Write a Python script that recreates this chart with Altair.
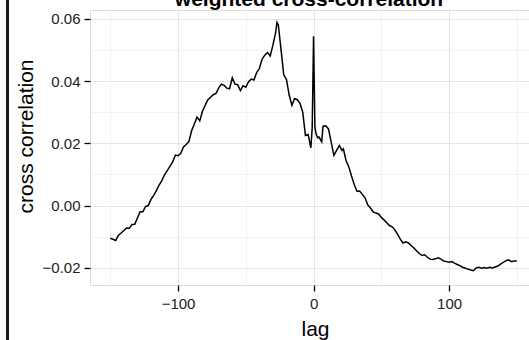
import altair as alt
import pandas as pd

# lag (x) and weighted cross-correlation (y)
lags = [-150, -148, -146, -144, -142, -140, -138, -136, -134, -132, -130, -128, -126, -124, -122,
        -120, -118, -116, -114, -112, -110, -108, -106, -104, -102, -100, -98, -96, -94, -92,
        -90, -88, -86, -84, -82, -80, -78, -76, -74, -72, -70, -68, -66, -64, -62,
        -60, -58, -56, -54, -52, -50, -48, -46, -44, -42, -40, -38, -36, -34, -32,
        -30, -28, -27, -26, -24, -22, -20, -18, -16, -14, -12, -10, -8, -6, -4,
        -2, -1, 0, 1, 2, 3, 4, 6, 7, 9, 11, 13, 15, 17, 19,
        21, 22, 24, 26, 28, 30, 32, 34, 36, 38, 40, 42, 44, 46, 48,
        50, 52, 54, 56, 58, 60, 62, 64, 66, 68, 70, 72, 74, 76, 78,
        80, 82, 84, 86, 88, 90, 92, 94, 96, 98, 100, 102, 104, 106, 108,
        110, 112, 114, 116, 118, 120, 122, 124, 126, 128, 130, 132, 134, 136, 138,
        140, 142, 144, 146, 148, 150]

cross_corr = [-0.0105, -0.0108, -0.0112, -0.0095, -0.0088, -0.0080, -0.0072, -0.0073, -0.0061, -0.0060,
              -0.0040, -0.0020, -0.0020, -0.0003, 0.0000,
              0.0020, 0.0033, 0.0048, 0.0066, 0.0080, 0.0099, 0.0112, 0.0126, 0.0140, 0.0162,
              0.0160, 0.0168, 0.0188, 0.0196, 0.0205,
              0.0240, 0.0262, 0.0284, 0.0272, 0.0303, 0.0322, 0.0340, 0.0348, 0.0356, 0.0360,
              0.0378, 0.0390, 0.0386, 0.0377, 0.0375,
              0.0410, 0.0390, 0.0388, 0.0369, 0.0385, 0.0380, 0.0398, 0.0406, 0.0403, 0.0427,
              0.0440, 0.0470, 0.0483, 0.0492, 0.0480,
              0.0515, 0.0555, 0.0588, 0.0580, 0.0500, 0.0420, 0.0405, 0.0355, 0.0322, 0.0344,
              0.0340, 0.0328, 0.0300, 0.0225, 0.0228,
              0.0185, 0.0250, 0.0544, 0.0250, 0.0228, 0.0218, 0.0220, 0.0205, 0.0255, 0.0256,
              0.0246, 0.0204, 0.0161, 0.0177, 0.0193,
              0.0177, 0.0182, 0.0144, 0.0125, 0.0095, 0.0068, 0.0046, 0.0047, 0.0036, 0.0025,
              0.0002, -0.0008, -0.0020, -0.0024, -0.0027,
              -0.0038, -0.0046, -0.0055, -0.0064, -0.0068, -0.0078, -0.0092, -0.0108, -0.0120, -0.0116,
              -0.0120, -0.0128, -0.0136, -0.0145, -0.0154,
              -0.0160, -0.0158, -0.0166, -0.0172, -0.0173, -0.0171, -0.0168, -0.0172, -0.0178, -0.0180,
              -0.0182, -0.0180, -0.0185, -0.0189, -0.0193,
              -0.0198, -0.0201, -0.0204, -0.0207, -0.0209, -0.0200, -0.0198, -0.0201, -0.0199, -0.0201,
              -0.0198, -0.0200, -0.0197, -0.0194, -0.0188,
              -0.0182, -0.0177, -0.0174, -0.0180, -0.0178, -0.0178]

x_major = [-100, 0, 100]
x_minor = [-150, -50, 50, 150]
y_major = [-0.02, 0.0, 0.02, 0.04, 0.06]
y_minor = [-0.01, 0.01, 0.03, 0.05]
title_text = "weighted cross-correlation"

df = pd.DataFrame({"lag": lags, "cc": cross_corr})

FONT = "Liberation Sans"
x_scale = alt.Scale(domain=[-165, 159], nice=False, zero=False)
y_scale = alt.Scale(domain=[-0.0255, 0.0628], nice=False, zero=False)

line = alt.Chart(df).mark_line(color="black", strokeWidth=1.5).encode(
    x=alt.X("lag:Q", scale=x_scale,
            axis=alt.Axis(orient="bottom", values=x_major, format="d", domain=False, grid=True,
                          gridColor="#e4e4e4", gridWidth=1.2,
                          ticks=True, tickColor="black", tickSize=6, tickWidth=1.3,
                          labelFont=FONT, labelFontSize=15, labelColor="#222222", labelPadding=5,
                          title="lag", titleFont=FONT, titleFontSize=21, titleFontWeight="normal",
                          titleColor="black", titleX=225, titleY=50, titleBaseline="alphabetic",
                          titleAlign="center")),
    y=alt.Y("cc:Q", scale=y_scale,
            axis=alt.Axis(orient="left", values=y_major, format=".2f", domain=False, grid=True,
                          gridColor="#e4e4e4", gridWidth=1.2,
                          ticks=True, tickColor="black", tickSize=6, tickWidth=1.3,
                          labelFont=FONT, labelFontSize=15, labelColor="#222222", labelPadding=4,
                          title="cross correlation", titleFont=FONT, titleFontSize=21,
                          titleFontWeight="normal", titleColor="black", titleAngle=270,
                          titleX=-58, titleY=126, titleBaseline="alphabetic", titleAlign="center")),
)

minor = alt.Chart(df).mark_line(opacity=0).encode(
    x=alt.X("lag:Q", scale=x_scale,
            axis=alt.Axis(orient="top", values=x_minor, labels=False, ticks=False, domain=False,
                          grid=True, gridColor="#f2f2f2", gridWidth=1, title=None)),
    y=alt.Y("cc:Q", scale=y_scale,
            axis=alt.Axis(orient="right", values=y_minor, labels=False, ticks=False, domain=False,
                          grid=True, gridColor="#f2f2f2", gridWidth=1, title=None)),
)

left_bar = alt.Chart(df).mark_rule(color="#1a1a1a", strokeWidth=3).encode(
    x=alt.value(-82.5), y=alt.value(-10), y2=alt.value(330)
)

title_mark = alt.Chart(pd.DataFrame({"t": [title_text]})).mark_text(
    font=FONT, fontSize=21, fontWeight="bold", color="black",
    align="center", baseline="alphabetic"
).encode(text="t:N", x=alt.value(219), y=alt.value(-4))

chart = alt.layer(line, minor, left_bar, title_mark).resolve_axis(
    x="independent", y="independent"
).properties(
    width=439,
    height=275,
    padding={"left": 90, "top": 10, "right": 0, "bottom": 55},
    autosize=alt.AutoSizeParams(type="none"),
).configure_view(
    stroke="#7a7a7a", strokeWidth=1
).configure(background="white")

chart.save("out.html", embed_options={"renderer": "svg", "actions": False})
